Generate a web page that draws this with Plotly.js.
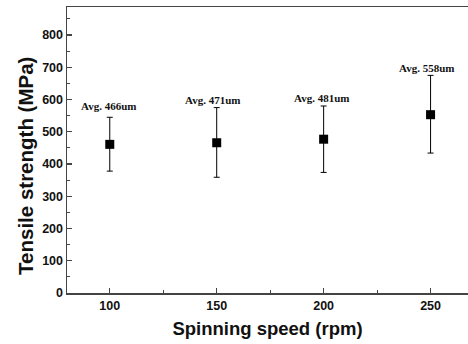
<!DOCTYPE html>
<html>
<head>
<script src="https://cdn.plot.ly/plotly-3.0.1.min.js"></script>
<style>html,body{margin:0;padding:0;background:#fff;}#chart{width:468px;height:344px;}</style>
</head>
<body>
<div id="chart"></div>
<script>
const speeds = [100, 150, 200, 250];
const strength = [461, 466, 477, 553];
const errUp = [84, 109, 103, 122];
const errDown = [83, 107, 103, 119];
const labels = ["Avg. 466um", "Avg. 471um", "Avg. 481um", "Avg. 558um"];
const labelX = [99.5, 148, 199, 248];
const labelY = [580, 598, 605, 698];
const xTicks = [100, 150, 200, 250];
const yTicks = [0, 100, 200, 300, 400, 500, 600, 700, 800];
const xTitle = 'Spinning speed (rpm)';
const yTitle = 'Tensile strength (MPa)';

const trace = {
  x: speeds, y: strength, type: 'scatter', mode: 'markers',
  marker: {symbol: 'square', size: 9, color: '#000'},
  error_y: {type: 'data', symmetric: false, array: errUp, arrayminus: errDown,
            color: '#000', thickness: 1, width: 3},
  hoverinfo: 'none'
};

const annotations = labels.map((t, i) => ({
  x: labelX[i], y: labelY[i], xref: 'x', yref: 'y', text: t, showarrow: false,
  font: {family: 'Liberation Serif, Times New Roman, serif', size: 11, color: '#111', weight: 'bold'}
}));
annotations.push({
  x: -0.105, y: 0.444, xref: 'paper', yref: 'paper', xanchor: 'center', yanchor: 'middle',
  text: yTitle, textangle: -90, showarrow: false,
  font: {family: 'Liberation Sans, Arial, sans-serif', size: 20.5, color: '#111', weight: 'bold'}
});

const axisFont = {family: 'Liberation Sans, Arial, sans-serif', size: 12.5, color: '#111', weight: 'bold'};
const layout = {
  width: 468, height: 344,
  margin: {l: 67, r: 0, t: 7, b: 51},
  paper_bgcolor: '#fff', plot_bgcolor: '#fff',
  showlegend: false,
  xaxis: {
    range: [80, 267.5], tickvals: xTicks, ticktext: xTicks.map(String),
    ticks: 'inside', ticklen: 5, tickwidth: 1.2, tickcolor: '#444',
    minor: {dtick: 25, tick0: 0, ticks: 'inside', ticklen: 3, tickwidth: 1, tickcolor: '#444'},
    showline: true, linecolor: '#444', linewidth: 1.5, mirror: true,
    showgrid: false, zeroline: false, tickfont: axisFont,
    title: {text: xTitle, font: {family: 'Liberation Sans, Arial, sans-serif', size: 18.5, color: '#111', weight: 'bold'}, standoff: 10}
  },
  yaxis: {
    range: [0, 887], tickvals: yTicks, ticktext: yTicks.map(String),
    ticks: 'inside', ticklen: 5, tickwidth: 1.2, tickcolor: '#444',
    minor: {dtick: 50, tick0: 0, ticks: 'inside', ticklen: 3, tickwidth: 1, tickcolor: '#444'},
    showline: true, linecolor: '#444', linewidth: 1.5,
    showgrid: false, zeroline: false, tickfont: axisFont
  },
  annotations: annotations
};

Plotly.newPlot('chart', [trace], layout, {displayModeBar: false, staticPlot: true});
</script>
</body>
</html>
